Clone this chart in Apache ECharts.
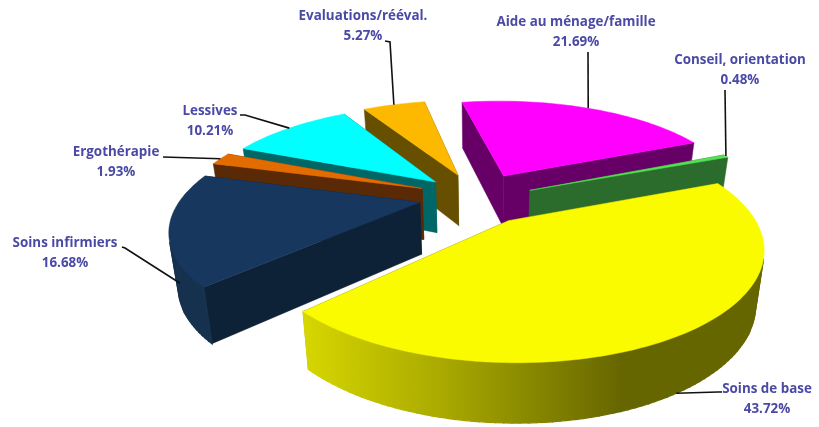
<!DOCTYPE html>
<html>
<head>
<meta charset="utf-8">
<style>html,body{margin:0;padding:0;background:#fff}#c{width:819px;height:427px}</style>
<script src="https://cdn.jsdelivr.net/npm/echarts@6/dist/echarts.min.js"></script>
</head>
<body>
<div id="c"></div>
<script>
// Data, clockwise from the gap at the top
const categories = ['Aide au ménage/famille','Conseil, orientation','Soins de base','Soins infirmiers','Ergothérapie','Lessives','Evaluations/rééval.'];
const shares = [21.69,0.48,43.72,16.68,1.93,10.21,5.27];

// Slice styling
const topColors  = ['#ff00ff','#55e055','#fbfb00','#17375e','#e36c00','#00ffff','#fdb900'];
const cutColors  = ['#660066','#2b6b2b','#666600','#0e2237','#5a2a06','#006666','#665000'];
const wallColors = ['#660066','#2b6b2b',null,'#16324f','#5a2a06','#006666','#665000'];
const explode    = [0.225,0.218,0.27,0.26,0.257,0.236,0.23];
const explodeTurn= [0,10,8,-2,-4,-6,-4];
const radii      = [1,1,0.985,1,1,1,1];

// Camera
const CX=480, CY=195, D=4.5, F=1067, A=446, START=-11.5, THICK=52, SHRINK=0.03;
function project(X,Y,depth){
  const s=F/(D-Y);
  const h=THICK*Math.pow(s/242,0.5);
  return [CX+X*s*(1-SHRINK*depth), CY+A*Y/(D-Y)+depth*h];
}
const rad=d=>d*Math.PI/180;
function rimPoint(i,deg,r,depth){
  const m=rad(midDeg(i)+explodeTurn[i]);
  const ox=explode[i]*Math.sin(m), oy=-explode[i]*Math.cos(m);
  return project(ox+r*Math.sin(rad(deg)), oy-r*Math.cos(rad(deg)), depth);
}
const total=shares.reduce((a,b)=>a+b,0);
function startDeg(i){let s=0;for(let k=0;k<i;k++)s+=shares[k];return START+s/total*360;}
function endDeg(i){return startDeg(i)+shares[i]/total*360;}
function midDeg(i){return (startDeg(i)+endDeg(i))/2;}
function arc(i,depth){
  const a=startDeg(i),b=endDeg(i),n=Math.max(2,Math.ceil((b-a)/1.5)),pts=[];
  for(let k=0;k<=n;k++)pts.push(rimPoint(i,a+(b-a)*k/n,radii[i],depth));
  return pts;
}
function signedArea(p){
  let s=0;
  for(let k=0;k<p.length;k++){const q=p[(k+1)%p.length];s+=p[k][0]*q[1]-q[0]*p[k][1];}
  return s;
}

// Label layout: text centre and the leader's elbow/end; leader start = fraction along rim + wall depth
const labelLayout=[
 {x:576,y:32,leader:[[588,52]],frac:.5,drop:0},
 {x:740,y:70,leader:[[725,90]],frac:.5,drop:0},
 {x:767,y:399,leader:[[718,392],[722,392]],frac:.5,drop:1},
 {x:65,y:253,leader:[[125,248],[122,247]],frac:.25,drop:.45},
 {x:116,y:162,leader:[[163,157]],frac:.5,drop:0},
 {x:210,y:121,leader:[[245,115],[240,115]],frac:.5,drop:0},
 {x:363,y:26,leader:[[390,42],[385,41]],frac:.5,drop:0}
];

const yellowWall={type:'linear',global:true,x:305,y:0,x2:770,y2:0,colorStops:[
  {offset:0,color:'#d6d600'},{offset:.29,color:'#aaaa00'},{offset:.68,color:'#666600'},{offset:1,color:'#666600'}]};

function renderItem(params,api){
  const i=params.dataIndex, val=api.value(0);
  const top=arc(i,0), bottom=arc(i,1);
  const apexT=rimPoint(i,0,0,0), apexB=rimPoint(i,0,0,1);
  const m=rad(midDeg(i));
  const z=Math.round(100*(-explode[i]*Math.cos(m)-0.7*Math.cos(m)))+1000;
  const poly=(points,fill,dz,lw)=>({type:'polygon',z2:z+dz,shape:{points},
     style:{fill,stroke:fill,lineWidth:lw||0.5}});
  const wallFill = wallColors[i] || yellowWall;
  const lastK=top.length-1;
  const kids=[
    poly([apexT,top[0],bottom[0],apexB],cutColors[i],0),
    poly([apexT,top[lastK],bottom[lastK],apexB],cutColors[i],0)
  ];
  // only the wall strips turned towards the viewer are drawn
  for(let k=0;k<lastK;k++){
    const q=[top[k],top[k+1],bottom[k+1],bottom[k]];
    if(signedArea(q)<0) kids.push(poly(q,wallFill,1,1.3));
  }
  kids.push(poly([apexT].concat(top),topColors[i],2));
  const lay=labelLayout[i];
  const a=startDeg(i)+(endDeg(i)-startDeg(i))*lay.frac;
  kids.push({type:'polyline',z2:5000,shape:{points:[rimPoint(i,a,radii[i],lay.drop)].concat(lay.leader)},
     style:{fill:null,stroke:'#111',lineWidth:1.6}});
  kids.push({type:'text',z2:5001,x:lay.x,y:lay.y,style:{
     text:categories[i]+'\n'+val.toFixed(2)+'%',fill:'#4a4aa6',
     font:'bold 13.4px "Open Sans"',lineHeight:20,align:'center',verticalAlign:'middle'}});
  return {type:'group',children:kids};
}
const chart=echarts.init(document.getElementById('c'),null,{renderer:'canvas'});
chart.setOption({
  animation:false,backgroundColor:'#fff',
  series:[{type:'custom',coordinateSystem:'none',renderItem,silent:true,
    data:shares.map((v,i)=>({name:categories[i],value:[v]}))}]
});
</script>
</body>
</html>
